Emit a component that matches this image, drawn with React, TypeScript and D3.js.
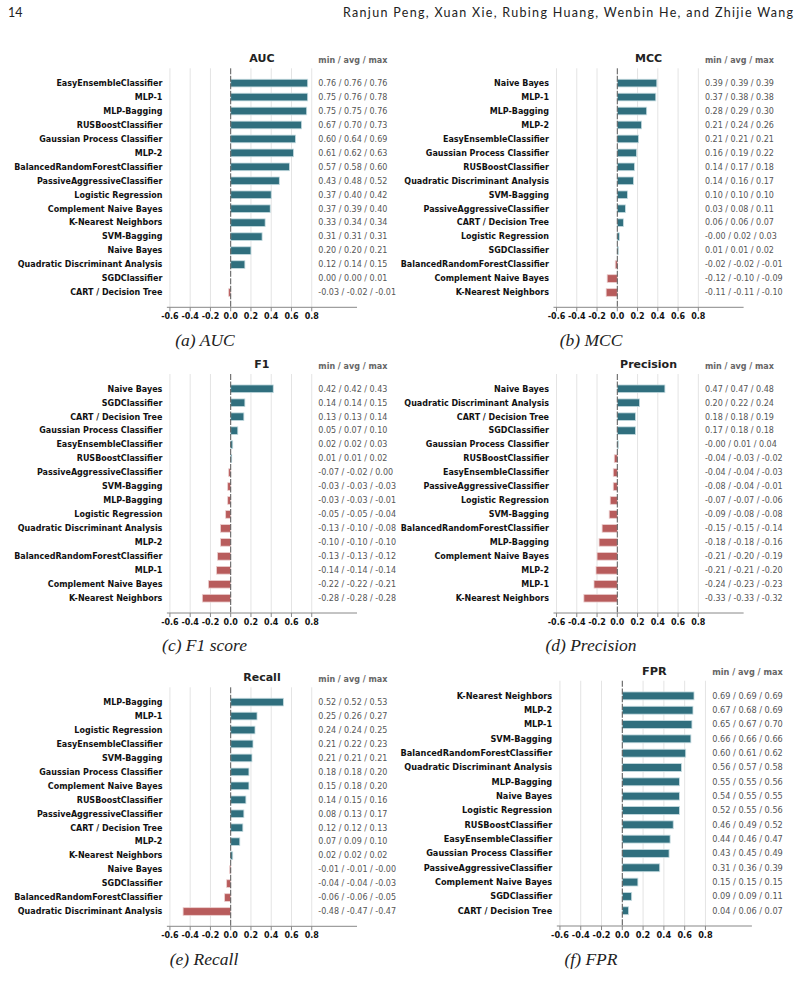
import React from "react"
import * as d3 from "d3"

// ---- data (min / avg / max per classifier, as printed next to each bar) ----
const aucNames = ["EasyEnsembleClassifier", "MLP-1", "MLP-Bagging", "RUSBoostClassifier", "Gaussian Process Classifier", "MLP-2", "BalancedRandomForestClassifier", "PassiveAggressiveClassifier", "Logistic Regression", "Complement Naive Bayes", "K-Nearest Neighbors", "SVM-Bagging", "Naive Bayes", "Quadratic Discriminant Analysis", "SGDClassifier", "CART / Decision Tree"]
const aucMin = [0.76, 0.75, 0.75, 0.67, 0.6, 0.61, 0.57, 0.43, 0.37, 0.37, 0.33, 0.31, 0.2, 0.12, 0.0, -0.03]
const aucAvg = [0.76, 0.76, 0.75, 0.7, 0.64, 0.62, 0.58, 0.48, 0.4, 0.39, 0.34, 0.31, 0.2, 0.14, 0.0, -0.02]
const aucMax = [0.76, 0.78, 0.76, 0.73, 0.69, 0.63, 0.6, 0.52, 0.42, 0.4, 0.34, 0.31, 0.21, 0.15, 0.01, -0.01]

const mccNames = ["Naive Bayes", "MLP-1", "MLP-Bagging", "MLP-2", "EasyEnsembleClassifier", "Gaussian Process Classifier", "RUSBoostClassifier", "Quadratic Discriminant Analysis", "SVM-Bagging", "PassiveAggressiveClassifier", "CART / Decision Tree", "Logistic Regression", "SGDClassifier", "BalancedRandomForestClassifier", "Complement Naive Bayes", "K-Nearest Neighbors"]
const mccMin = [0.39, 0.37, 0.28, 0.21, 0.21, 0.16, 0.14, 0.14, 0.1, 0.03, 0.06, -0.001, 0.01, -0.02, -0.12, -0.11]
const mccAvg = [0.39, 0.38, 0.29, 0.24, 0.21, 0.19, 0.17, 0.16, 0.1, 0.08, 0.06, 0.02, 0.01, -0.02, -0.1, -0.11]
const mccMax = [0.39, 0.38, 0.3, 0.26, 0.21, 0.22, 0.18, 0.17, 0.1, 0.11, 0.07, 0.03, 0.02, -0.01, -0.09, -0.1]

const f1Names = ["Naive Bayes", "SGDClassifier", "CART / Decision Tree", "Gaussian Process Classifier", "EasyEnsembleClassifier", "RUSBoostClassifier", "PassiveAggressiveClassifier", "SVM-Bagging", "MLP-Bagging", "Logistic Regression", "Quadratic Discriminant Analysis", "MLP-2", "BalancedRandomForestClassifier", "MLP-1", "Complement Naive Bayes", "K-Nearest Neighbors"]
const f1Min = [0.42, 0.14, 0.13, 0.05, 0.02, 0.01, -0.07, -0.03, -0.03, -0.05, -0.13, -0.1, -0.13, -0.14, -0.22, -0.28]
const f1Avg = [0.42, 0.14, 0.13, 0.07, 0.02, 0.01, -0.02, -0.03, -0.03, -0.05, -0.1, -0.1, -0.13, -0.14, -0.22, -0.28]
const f1Max = [0.43, 0.15, 0.14, 0.1, 0.03, 0.02, 0.0, -0.03, -0.01, -0.04, -0.08, -0.1, -0.12, -0.14, -0.21, -0.28]

const precNames = ["Naive Bayes", "Quadratic Discriminant Analysis", "CART / Decision Tree", "SGDClassifier", "Gaussian Process Classifier", "RUSBoostClassifier", "EasyEnsembleClassifier", "PassiveAggressiveClassifier", "Logistic Regression", "SVM-Bagging", "BalancedRandomForestClassifier", "MLP-Bagging", "Complement Naive Bayes", "MLP-2", "MLP-1", "K-Nearest Neighbors"]
const precMin = [0.47, 0.2, 0.18, 0.17, -0.001, -0.04, -0.04, -0.08, -0.07, -0.09, -0.15, -0.18, -0.21, -0.21, -0.24, -0.33]
const precAvg = [0.47, 0.22, 0.18, 0.18, 0.01, -0.03, -0.04, -0.04, -0.07, -0.08, -0.15, -0.18, -0.2, -0.21, -0.23, -0.33]
const precMax = [0.48, 0.24, 0.19, 0.18, 0.04, -0.02, -0.03, -0.01, -0.06, -0.08, -0.14, -0.16, -0.19, -0.2, -0.23, -0.32]

const recNames = ["MLP-Bagging", "MLP-1", "Logistic Regression", "EasyEnsembleClassifier", "SVM-Bagging", "Gaussian Process Classifier", "Complement Naive Bayes", "RUSBoostClassifier", "PassiveAggressiveClassifier", "CART / Decision Tree", "MLP-2", "K-Nearest Neighbors", "Naive Bayes", "SGDClassifier", "BalancedRandomForestClassifier", "Quadratic Discriminant Analysis"]
const recMin = [0.52, 0.25, 0.24, 0.21, 0.21, 0.18, 0.15, 0.14, 0.08, 0.12, 0.07, 0.02, -0.01, -0.04, -0.06, -0.48]
const recAvg = [0.52, 0.26, 0.24, 0.22, 0.21, 0.18, 0.18, 0.15, 0.13, 0.12, 0.09, 0.02, -0.01, -0.04, -0.06, -0.47]
const recMax = [0.53, 0.27, 0.25, 0.23, 0.21, 0.2, 0.2, 0.16, 0.17, 0.13, 0.1, 0.02, -0.001, -0.03, -0.05, -0.47]

const fprNames = ["K-Nearest Neighbors", "MLP-2", "MLP-1", "SVM-Bagging", "BalancedRandomForestClassifier", "Quadratic Discriminant Analysis", "MLP-Bagging", "Naive Bayes", "Logistic Regression", "RUSBoostClassifier", "EasyEnsembleClassifier", "Gaussian Process Classifier", "PassiveAggressiveClassifier", "Complement Naive Bayes", "SGDClassifier", "CART / Decision Tree"]
const fprMin = [0.69, 0.67, 0.65, 0.66, 0.6, 0.56, 0.55, 0.54, 0.52, 0.46, 0.44, 0.43, 0.31, 0.15, 0.09, 0.04]
const fprAvg = [0.69, 0.68, 0.67, 0.66, 0.61, 0.57, 0.55, 0.55, 0.55, 0.49, 0.46, 0.45, 0.36, 0.15, 0.09, 0.06]
const fprMax = [0.69, 0.69, 0.7, 0.66, 0.62, 0.58, 0.56, 0.55, 0.56, 0.52, 0.47, 0.49, 0.39, 0.15, 0.11, 0.07]

const xTicks = [-0.6, -0.4, -0.2, 0, 0.2, 0.4, 0.6, 0.8]

const FONT = "'DejaVu Sans', sans-serif"
const K = 101.3 // px per unit
const H = 239
const POS = "#306f7e"
const NEG = "#b85c5c"

const fmt = (v: number, d: number) => (v < 0 ? "-" : "") + Math.abs(v).toFixed(d)

function Panel(props: any) {
  const { title, names, mins, avgs, maxs, zeroX, top, s = 1 } = props
  const x = d3.scaleLinear().domain([-0.63, 1.247]).range([-0.63 * K, 1.247 * K])
  const y = d3.scaleBand().domain(names).range([0, H]).paddingInner(0.45).paddingOuter(0.785)
  const [x0, x1] = x.range()
  const valueX = x(0.865)

  return (
    <g transform={`translate(${zeroX},${top}) scale(${s})`} fontFamily={FONT}>
      <text x={(x0 + x1) / 2} y={-6} textAnchor="middle" fontSize={11} fontWeight="bold" fill="#222">{title}</text>
      <text x={valueX} y={-5.5} fontSize={8} fontWeight="bold" fill="#666">min / avg / max</text>
      {xTicks.filter(t => t !== 0).map(t => (
        <line key={t} x1={x(t)} x2={x(t)} y1={0} y2={H} stroke="#e4e4e4" strokeWidth={1} />
      ))}
      {names.map((n: string, i: number) => {
        const v = avgs[i]
        return (
          <rect key={n} x={x(Math.min(0, v))} y={y(n)} width={Math.abs(x(v) - x(0))} height={y.bandwidth()}
            fill={v < 0 ? NEG : POS} stroke={v < 0 ? "#ecd0d0" : "#c6dce1"} strokeWidth={0.8} />
        )
      })}
      <line x1={x(0)} x2={x(0)} y1={0} y2={H} stroke="#555" strokeWidth={1} strokeDasharray="6,1.5" />
      {names.map((n: string, i: number) => {
        const cy = (y(n) as number) + y.bandwidth() / 2
        return (
          <g key={n}>
            <text x={x0 - 4.5} y={cy} dy="0.35em" textAnchor="end" fontSize={8} fontWeight="bold" fill="#111">{n}</text>
            <text x={valueX} y={cy} dy="0.35em" fontSize={8} fill="#555">
              {`${fmt(mins[i], 2)} / ${fmt(avgs[i], 2)} / ${fmt(maxs[i], 2)}`}
            </text>
          </g>
        )
      })}
      <line x1={x0} x2={x1} y1={H} y2={H} stroke="#888" strokeWidth={1} />
      {xTicks.map(t => (
        <g key={t}>
          <line x1={x(t)} x2={x(t)} y1={H} y2={H + 4} stroke="#888" strokeWidth={1} />
          <text x={x(t)} y={H + 11.7} textAnchor="middle" fontSize={8} fontWeight="bold" fill="#111">{fmt(t, 1)}</text>
        </g>
      ))}
    </g>
  )
}

function Caption({ x, y, text }: { x: number; y: number; text: string }) {
  return (
    <text x={x} y={y} textAnchor="middle" fontFamily="'Liberation Serif', serif" fontStyle="italic" fontSize={17.5} fill="#222">{text}</text>
  )
}

export default function App() {
  return (
    <svg width={801} height={996} style={{ position: "absolute", left: 0, top: 0, background: "#fff" }}>
      <rect width={801} height={996} fill="#fff" />
      <text x={8} y={16.7} fontFamily="Lato, sans-serif" fontSize={12.5} fill="#222">14</text>
      <text x={793} y={16.7} textAnchor="end" fontFamily="Lato, sans-serif" fontSize={12.5} fill="#222"
        textLength={450} lengthAdjust="spacing">Ranjun Peng, Xuan Xie, Rubing Huang, Wenbin He, and Zhijie Wang</text>

      <Panel title="AUC" names={aucNames} mins={aucMin} avgs={aucAvg} maxs={aucMax} zeroX={230.7} top={68.3} />
      <Panel title="MCC" names={mccNames} mins={mccMin} avgs={mccAvg} maxs={mccMax} zeroX={617.3} top={68.3} />
      <Panel title="F1" names={f1Names} mins={f1Min} avgs={f1Avg} maxs={f1Max} zeroX={230.7} top={374} />
      <Panel title="Precision" names={precNames} mins={precMin} avgs={precAvg} maxs={precMax} zeroX={617.3} top={374} />
      <Panel title="Recall" names={recNames} mins={recMin} avgs={recAvg} maxs={recMax} zeroX={230.7} top={687.3} />
      <Panel title="FPR" names={fprNames} mins={fprMin} avgs={fprAvg} maxs={fprMax} zeroX={622.3} top={680.7} s={1.026} />

      <Caption x={205} y={345.5} text="(a) AUC" />
      <Caption x={591} y={345.5} text="(b) MCC" />
      <Caption x={204.5} y={651} text="(c) F1 score" />
      <Caption x={591} y={651} text="(d) Precision" />
      <Caption x={204} y={964.5} text="(e) Recall" />
      <Caption x={591} y={965} text="(f) FPR" />
    </svg>
  )
}
